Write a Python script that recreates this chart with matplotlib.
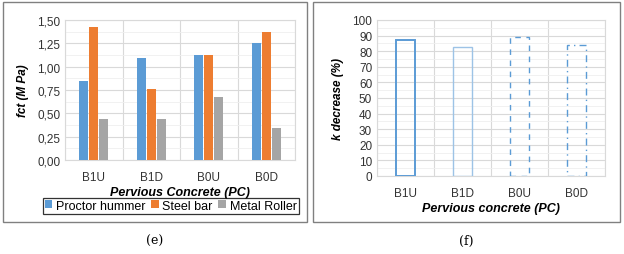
import matplotlib.pyplot as plt
import numpy as np
from matplotlib.patches import Rectangle
from matplotlib.ticker import FuncFormatter, MultipleLocator

plt.rcParams['font.family'] = ['Liberation Sans', 'DejaVu Sans']

samples = ['B1U', 'B1D', 'B0U', 'B0D']
methods = ['Proctor hummer', 'Steel bar', 'Metal Roller']
fct_proctor = [0.85, 1.09, 1.12, 1.25]
fct_steel = [1.42, 0.76, 1.12, 1.37]
fct_roller = [0.44, 0.44, 0.67, 0.34]
k_decrease = [87, 83, 89, 84]

colors = ['#5B9BD5', '#ED7D31', '#A5A5A5']
grid_major = '#D9D9D9'
grid_minor = '#EFEFEF'


def style_axes(ax):
    ax.set_xlim(-0.5, len(samples) - 0.5)
    ax.set_xticks(range(len(samples)))
    ax.set_xticklabels(samples)
    ax.set_xticks(np.arange(-0.5, len(samples), 1.0), minor=True)
    ax.tick_params(which='both', length=0, labelsize=8.5, colors='#333333')
    ax.tick_params(axis='x', pad=8)
    ax.grid(axis='x', which='minor', color=grid_major, lw=0.8)
    ax.grid(axis='y', which='major', color=grid_major, lw=0.8)
    ax.set_axisbelow(True)
    for sp in ax.spines.values():
        sp.set_color(grid_major)
        sp.set_linewidth(0.8)


fig = plt.figure(figsize=(6.24, 2.55), dpi=100)

# panel frames
for x0, x1 in [(3, 307), (313, 620)]:
    fig.patches.append(Rectangle((x0 / 624, 1 - 223 / 255), (x1 - x0) / 624, 220 / 255,
                                 transform=fig.transFigure, fill=False,
                                 edgecolor='#808080', lw=1.0))

# (e) tensile strength
ax1 = fig.add_axes([65 / 624, 1 - 161 / 255, 230 / 624, 140 / 255])
x = np.arange(len(samples))
w = 0.16
for i, (vals, lab) in enumerate(zip([fct_proctor, fct_steel, fct_roller], methods)):
    ax1.bar(x + (i - 1) * 0.172, vals, w, color=colors[i], label=lab, zorder=3)
ax1.set_ylim(0, 1.5)
ax1.yaxis.set_major_locator(MultipleLocator(0.25))
ax1.yaxis.set_minor_locator(MultipleLocator(0.125))
ax1.grid(axis='y', which='minor', color=grid_minor, lw=0.6)
ax1.yaxis.set_major_formatter(FuncFormatter(lambda v, p: f'{v:.2f}'.replace('.', ',')))
style_axes(ax1)
ax1.set_ylabel('fct (M Pa)', fontsize=8.5, fontweight='bold', style='italic', labelpad=6)
ax1.set_xlabel('Pervious Concrete (PC)', fontsize=9, fontweight='bold', style='italic', labelpad=2)
leg = ax1.legend(loc='upper center', bbox_to_anchor=(0.46, -0.27), ncol=3, fontsize=9,
                 frameon=True, fancybox=False, handlelength=0.6, handleheight=0.6,
                 handletextpad=0.3, columnspacing=0.45, borderpad=0.15, borderaxespad=0)
leg.get_frame().set_edgecolor('black')
leg.get_frame().set_linewidth(0.9)

# (f) permeability decrease
ax2 = fig.add_axes([377 / 624, 1 - 177 / 255, 228 / 624, 156 / 255])
styles = [('-', 1.4, '#5B9BD5'), ('-', 1.0, '#9DC3E6'), ((0, (4, 4)), 1.0, '#5B9BD5'),
          ((0, (5, 3, 1, 3)), 1.0, '#5B9BD5')]
for i, v in enumerate(k_decrease):
    ls, lw, c = styles[i]
    ax2.bar(i, v, 0.33, fill=False, edgecolor=c, linestyle=ls, linewidth=lw, zorder=3)
ax2.set_ylim(0, 100)
ax2.yaxis.set_major_locator(MultipleLocator(10))
ax2.yaxis.set_minor_locator(MultipleLocator(5))
ax2.grid(axis='y', which='minor', color=grid_minor, lw=0.6)
style_axes(ax2)
ax2.set_ylabel('k decrease (%)', fontsize=8.5, fontweight='bold', style='italic', labelpad=6)
ax2.set_xlabel('Pervious concrete (PC)', fontsize=9, fontweight='bold', style='italic', labelpad=2)

fig.text(155 / 624, 1 - 241 / 255, '(e)', ha='center', va='center', family='DejaVu Serif', fontsize=9)
fig.text(466 / 624, 1 - 241 / 255, '(f)', ha='center', va='center', family='DejaVu Serif', fontsize=9)

fig.savefig('out.png', dpi=100)
